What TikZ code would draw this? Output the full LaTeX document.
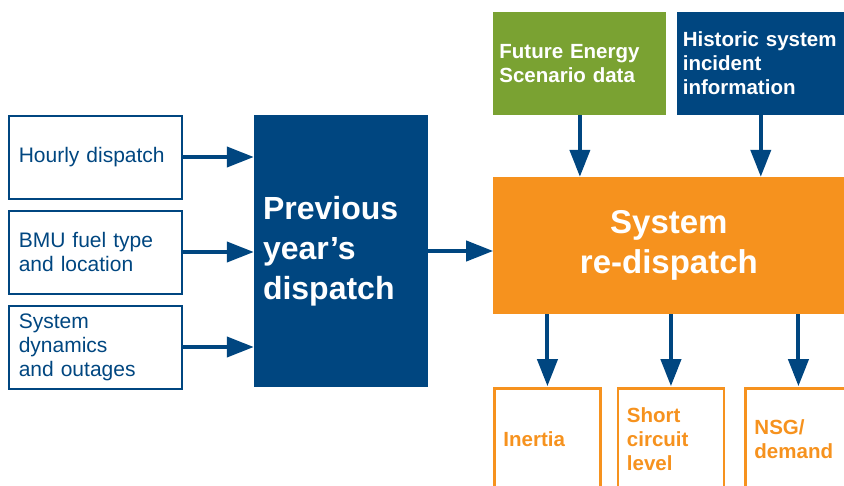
\documentclass[tikz,border=0pt]{standalone}
\usepackage{fontspec}
\setmainfont{Liberation Sans}
\usepackage{xcolor}
\usepackage{tikz}
\usetikzlibrary{arrows.meta, positioning}

\definecolor{ngblue}{RGB}{0,70,128}
\definecolor{ngorange}{RGB}{246,146,30}
\definecolor{nggreen}{RGB}{122,162,50}

\begin{document}
\begin{tikzpicture}[
  x=1pt, y=1pt,
  node distance=10pt and 71pt,
  inbox/.style={rectangle, draw=ngblue, line width=2pt, text=ngblue,
                minimum width=173pt, minimum height=83pt, text width=153pt,
                inner xsep=10pt, align=left,
                font=\fontsize{21}{24}\selectfont},
  bigbox/.style={rectangle, fill=ngblue, text=white, minimum width=174pt,
                 minimum height=272pt, text width=156pt, inner xsep=9pt,
                 align=left, font=\fontsize{32}{40}\selectfont\bfseries},
  topbox/.style={rectangle, text=white, minimum height=103pt,
                 inner xsep=6pt, align=left,
                 font=\fontsize{20.5}{24}\selectfont\bfseries},
  outbox/.style={rectangle, draw=ngorange, line width=2.5pt, text=ngorange,
                 minimum width=106pt, minimum height=102pt, text width=88pt,
                 inner xsep=9pt, align=left,
                 font=\fontsize{20.5}{24}\selectfont\bfseries},
  arr/.style={-{Triangle[length=27pt, width=20pt]}, line width=4pt, draw=ngblue},
]
\path[use as bounding box, clip] (0,0) rectangle (844,-485);

% inputs
\node[bigbox] (prev) at (341,-251) {Previous\\year’s\\dispatch};
\node[inbox, left=71pt of prev, yshift=-1pt] (bmu) {BMU fuel type\\and location};
\node[inbox, above=of bmu] (hourly) {Hourly dispatch};
\node[inbox, below=of bmu] (dynamics) {System\\dynamics\\and outages};

% re-dispatch
\node[rectangle, fill=ngorange, text=white, minimum width=351pt,
      minimum height=137pt, align=center,
      font=\fontsize{33}{40}\selectfont\bfseries,
      right=65pt of prev, yshift=5.5pt] (redisp) {System\\re-dispatch};
\node[topbox, fill=nggreen, text width=161pt,
      above=62pt of redisp.north west, anchor=south west] (fes)
      {Future Energy\\Scenario data};
\node[topbox, fill=ngblue, text width=156pt, right=10pt of fes] (hist)
      {Historic system\\incident\\information};

% outputs
\node[outbox, below=73pt of redisp.south west, anchor=north west] (inertia) {Inertia};
\node[outbox, right=15pt of inertia] (scl) {Short\\circuit\\level};
\node[outbox, right=19pt of scl] (nsg) {NSG/\\demand};

\draw[arr] (hourly) -- (hourly -| prev.west);
\draw[arr] (bmu) -- (bmu -| prev.west);
\draw[arr] (dynamics) -- (dynamics -| prev.west);
\draw[arr] (prev) -- (prev -| redisp.west);
\draw[arr] (fes) -- (fes |- redisp.north);
\draw[arr] (hist) -- (hist |- redisp.north);
\draw[arr, shorten >=1pt] (inertia |- redisp.south) -- (inertia.north);
\draw[arr, shorten >=1pt] (scl |- redisp.south) -- (scl.north);
\draw[arr, shorten >=1pt] (nsg |- redisp.south) -- (nsg.north);
\end{tikzpicture}
\end{document}
